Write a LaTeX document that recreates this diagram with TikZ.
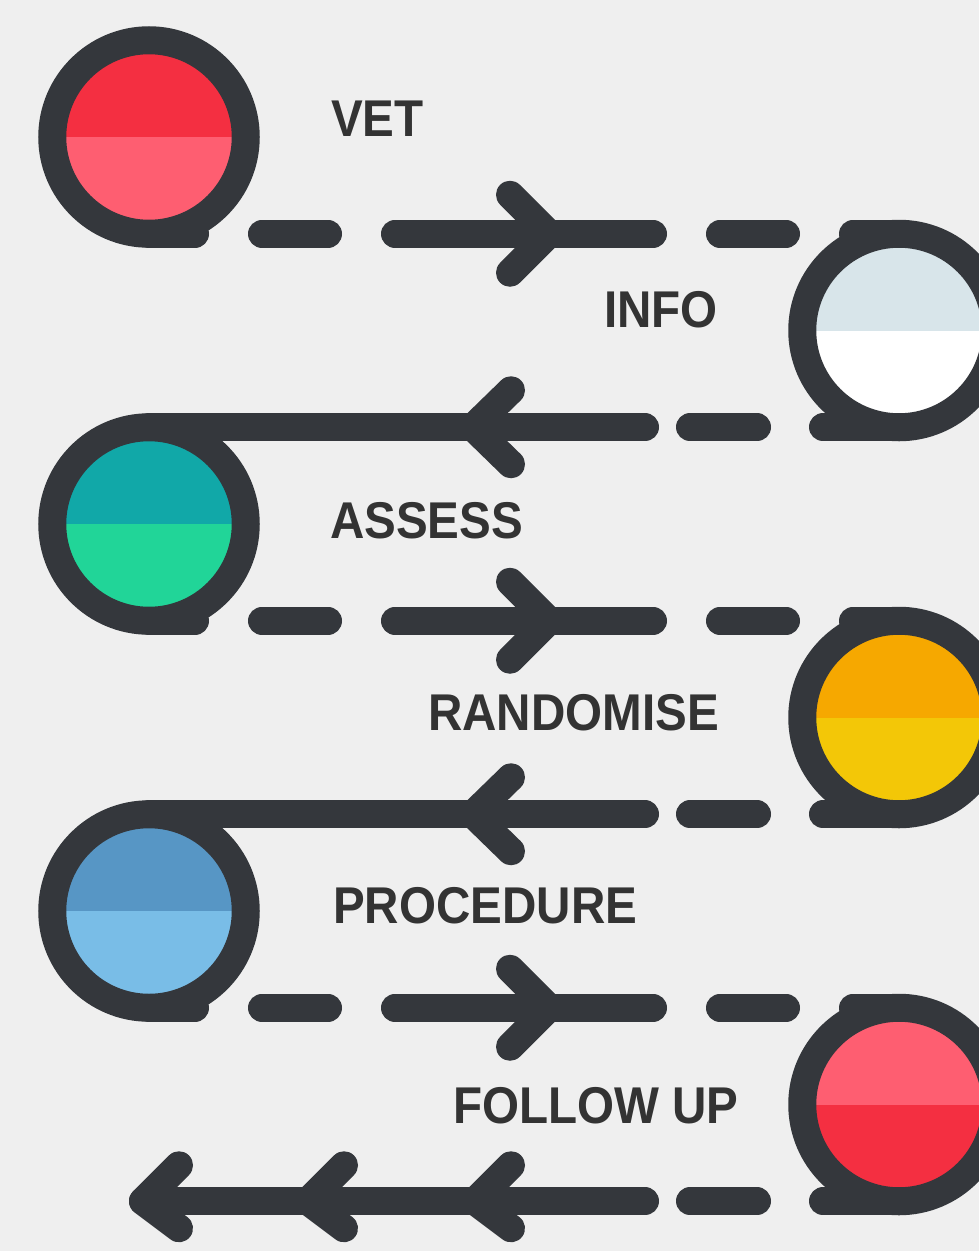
\documentclass[tikz,border=0pt]{standalone}
\usepackage{fontspec}
\newfontfamily\labelfont[FakeStretch=0.92]{Liberation Sans}
\usetikzlibrary{positioning}

\definecolor{ink}{HTML}{34373C}
\definecolor{paper}{HTML}{EFEFEF}
\definecolor{txt}{HTML}{333333}
\definecolor{redtop}{HTML}{F42F41}
\definecolor{redbot}{HTML}{FE5E71}
\definecolor{infotop}{HTML}{D8E5EA}
\definecolor{tealtop}{HTML}{11A8A8}
\definecolor{tealbot}{HTML}{21D598}
\definecolor{ambertop}{HTML}{F6A800}
\definecolor{amberbot}{HTML}{F3C707}
\definecolor{bluetop}{HTML}{5796C5}
\definecolor{bluebot}{HTML}{79BDE7}

\tikzset{
  fwd/.pic={\draw[track] (-39,-39) -- (0,0) -- (-39,39);},
  back/.pic={\draw[track] (38,-37) -- (0,0) -- (38,37);},
  tailchev/.pic={\draw[track] (36,-36) -- (0,0) -- (36,27);}
}

\begin{document}
\begin{tikzpicture}
  [x=1pt, y=-1pt,
   stage/.style 2 args={shape=circle, draw=ink, line width=28pt,
         inner sep=0pt, outer sep=0pt, minimum size=193.5pt, fill=#2,
         path picture={\fill[#1] (path picture bounding box.north west)
                       rectangle (path picture bounding box.east);}},
   tag/.style={anchor=base west, inner sep=0pt, text=txt,
         font=\labelfont\bfseries\fontsize{51.7}{60}\selectfont},
   track/.style={draw=ink, line width=28pt, line cap=round, line join=round},
   rightrow/.style={dash pattern=on 46pt off 67pt on 66pt off 67pt on 258pt off 67pt on 66pt off 67pt on 46pt off 100pt},
   leftrow/.style={dash pattern=on 76pt off 66pt on 67pt off 45pt on 600pt off 100pt}
  ]

 \fill[paper] (0,0) rectangle (979,1251);
 \useasboundingbox (0,0) rectangle (979,1251);

 \path
   (149, 137) node (vet)       [stage={redtop}{redbot}]     {}
   ++(750, 193.5)  node (info)      [stage={infotop}{white}]     {}
   ++(-750, 193.5) node (assess)    [stage={tealtop}{tealbot}]   {}
   ++(750, 193.5)  node (randomise) [stage={ambertop}{amberbot}] {}
   ++(-750, 193.5) node (procedure) [stage={bluetop}{bluebot}]   {}
   ++(750, 193.5)  node (followup)  [stage={redbot}{redtop}]     {}
   ;
 \coordinate (tail) at (143, 1201.25);

 % step names
 \node (vettext)       [tag] at (331, 136)  {VET};
 \node (infotext)      [tag] at (604, 327)  {INFO};
 \node (assesstext)    [tag] at (330, 538)  {ASSESS};
 \node (randomisetext) [tag] at (428, 730)  {RANDOMISE};
 \node (proceduretext) [tag] at (333, 923)  {PROCEDURE};
 \node (followuptext)  [tag] at (453, 1123) {FOLLOW UP};

 \begin{scope}[track]
   \draw [rightrow] (vet.south) -- (info.north);
   \draw [leftrow]  (info.south) -- (assess.north);
   \draw [rightrow] (assess.south) -- (randomise.north);
   \draw [leftrow]  (randomise.south) -- (procedure.north);
   \draw [rightrow] (procedure.south) -- (followup.north);
   \draw [leftrow]  (followup.south) -- (tail);
 \end{scope}

 % direction marks
 \pic at (549, 233.75)  {fwd};
 \pic at (473, 427.25)  {back};
 \pic at (549, 620.75)  {fwd};
 \pic at (473, 814.25)  {back};
 \pic at (549, 1007.75) {fwd};
 \pic at (tail)         {tailchev};
 \pic at (308, 1201.25) {tailchev};
 \pic at (475, 1201.25) {tailchev};

\end{tikzpicture}
\end{document}
